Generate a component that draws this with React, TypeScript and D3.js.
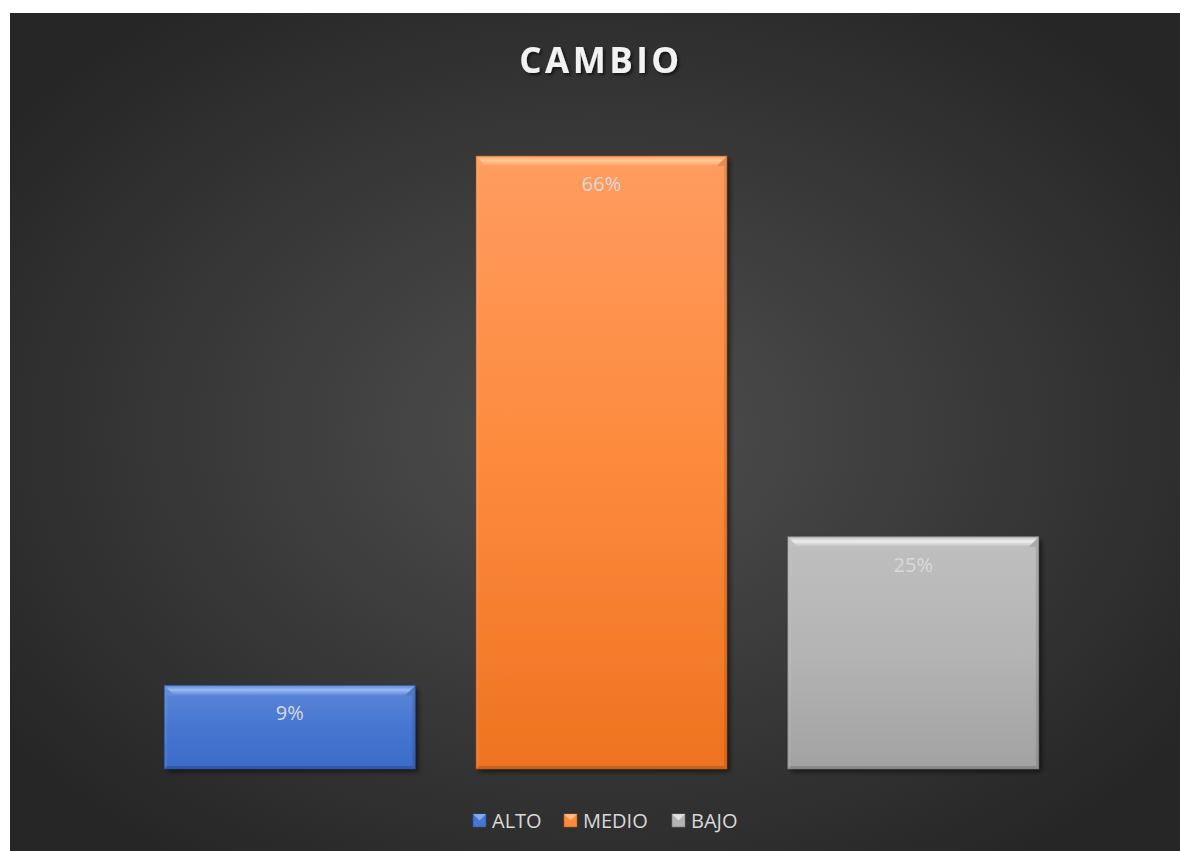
import React from "react";
import * as d3 from "d3";

const categories = ["ALTO", "MEDIO", "BAJO"];
const values = [0.09, 0.66, 0.25];
const labels = ["9%", "66%", "25%"];
const colors = [
  { top: "#5c88d8", mid: "#4676d2", bot: "#3b6bc8", hi: "#9ec0f5", dark: "#2a4f96" },
  { top: "#ff9c60", mid: "#fd8a3c", bot: "#ee7320", hi: "#ffd0a0", dark: "#b3561a" },
  { top: "#bfbfbf", mid: "#b4b4b4", bot: "#a2a2a2", hi: "#f4f4f4", dark: "#7a7a7a" },
];

const W = 1181;
const H = 851;

export default function App() {
  const x = d3.scaleBand<string>().domain(categories).range([134, 1069]).paddingInner(0.195).paddingOuter(0.097);
  const y = d3.scaleLinear().domain([0, 0.66]).range([769, 156]);
  const bw = x.bandwidth();
  const legendItems = [
    { name: "ALTO", mx: 473, tx: 492 },
    { name: "MEDIO", mx: 564, tx: 583 },
    { name: "BAJO", mx: 672, tx: 691 },
  ];
  return (
    <svg width={W} height={H} style={{ position: "absolute", left: 0, top: 0 }}>
      <defs>
        <radialGradient id="bg" cx="0.5" cy="0.5" r="0.62">
          <stop offset="0" stopColor="#4f4f4f" />
          <stop offset="1" stopColor="#262626" />
        </radialGradient>
        <filter id="sh" x="-10%" y="-10%" width="130%" height="130%">
          <feGaussianBlur in="SourceAlpha" stdDeviation="2.5" />
          <feOffset dx="3" dy="3" result="o" />
          <feComponentTransfer><feFuncA type="linear" slope="0.55" /></feComponentTransfer>
          <feMerge><feMergeNode /><feMergeNode in="SourceGraphic" /></feMerge>
        </filter>
        <filter id="tsh" x="-10%" y="-20%" width="130%" height="160%">
          <feGaussianBlur in="SourceAlpha" stdDeviation="1.5" />
          <feOffset dx="1.5" dy="2" />
          <feComponentTransfer><feFuncA type="linear" slope="0.6" /></feComponentTransfer>
          <feMerge><feMergeNode /><feMergeNode in="SourceGraphic" /></feMerge>
        </filter>
        {colors.map((c, i) => (
          <linearGradient key={i} id={`g${i}`} x1="0" y1="0" x2="0" y2="1">
            <stop offset="0" stopColor={c.top} />
            <stop offset="0.5" stopColor={c.mid} />
            <stop offset="1" stopColor={c.bot} />
          </linearGradient>
        ))}
        {colors.map((c, i) => (
          <linearGradient key={`h${i}`} id={`hg${i}`} x1="0" y1="0" x2="0" y2="1">
            <stop offset="0" stopColor={c.top} />
            <stop offset="0.45" stopColor={c.hi} />
            <stop offset="1" stopColor={c.top} />
          </linearGradient>
        ))}
      </defs>
      <rect x={10} y={13} width={1170} height={838} fill="url(#bg)" />
      <text x={601} y={73} textAnchor="middle" fontFamily="'Open Sans', sans-serif" fontWeight={700} fontSize={35} letterSpacing={3.5} fill="#f2f2f2" filter="url(#tsh)">CAMBIO</text>
      {categories.map((cat, i) => {
        const x0 = x(cat)!;
        const y0 = y(values[i]);
        const y1 = y(0);
        const h = y1 - y0;
        const c = colors[i];
        const b = 10;
        const s = 3;
        return (
          <g key={cat}>
            <rect x={x0} y={y0} width={bw} height={h} fill={`url(#g${i})`} filter="url(#sh)" />
            <polygon points={`${x0},${y0} ${x0 + bw},${y0} ${x0 + bw - b},${y0 + b} ${x0 + b},${y0 + b}`} fill={`url(#hg${i})`} opacity={0.9} />
            <polygon points={`${x0},${y0} ${x0 + b},${y0 + b} ${x0 + s},${y0 + b} ${x0 + s},${y1 - s} ${x0},${y1}`} fill="#ffffff" opacity={0.07} />
            <polygon points={`${x0 + bw},${y0} ${x0 + bw - b},${y0 + b} ${x0 + bw - s},${y0 + b} ${x0 + bw - s},${y1 - s} ${x0 + bw},${y1}`} fill="#000000" opacity={0.1} />
            <polygon points={`${x0},${y1} ${x0 + s},${y1 - s} ${x0 + bw - s},${y1 - s} ${x0 + bw},${y1}`} fill={c.dark} opacity={0.6} />
            <rect x={x0} y={y0} width={bw} height={h} fill="none" stroke={c.dark} strokeWidth={1} opacity={0.6} />
            <text x={x0 + bw / 2} y={y0 + 35} textAnchor="middle" fontFamily="'Open Sans', sans-serif" fontSize={20} fill="#d9d9d9">{labels[i]}</text>
          </g>
        );
      })}
      {legendItems.map((l, i) => {
        const c = colors[i];
        const m = 13;
        const my = 814;
        return (
          <g key={l.name}>
            <rect x={l.mx} y={my} width={m} height={m} fill={c.mid} stroke={c.dark} strokeWidth={0.6} />
            <polygon points={`${l.mx},${my} ${l.mx + m},${my} ${l.mx + m / 2},${my + m / 2}`} fill={c.hi} opacity={0.7} />
            <text x={l.tx} y={828} fontFamily="'Open Sans', sans-serif" fontSize={20} fill="#d9d9d9">{l.name}</text>
          </g>
        );
      })}
    </svg>
  );
}
